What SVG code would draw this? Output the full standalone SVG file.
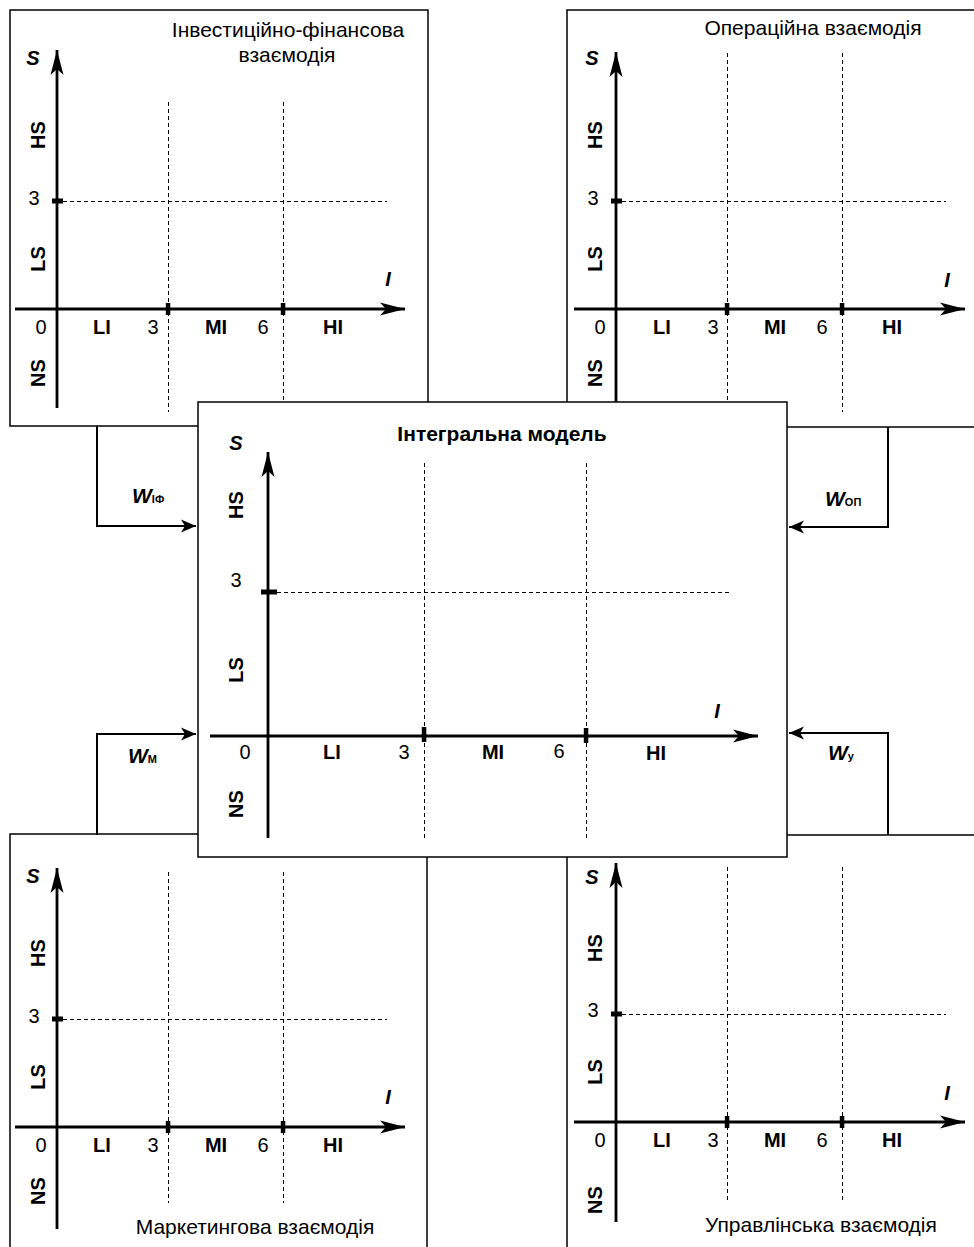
<svg xmlns="http://www.w3.org/2000/svg" width="974" height="1247" viewBox="0 0 974 1247">
<style>
text{font-family:"Liberation Sans",Arial,sans-serif;fill:#000}
.t{font-size:20px;text-anchor:middle}
.b{font-weight:bold}
.bi{font-weight:bold;font-style:italic}
.ttl{font-size:21px;text-anchor:middle}
.frame{fill:#fff;stroke:#000;stroke-width:1.5}
.ax{stroke:#000;stroke-width:2.8;fill:none}
.dash{stroke:#000;stroke-width:1;stroke-dasharray:4,3;fill:none;shape-rendering:crispEdges}
.con{stroke:#000;stroke-width:2;fill:none}
.w{font-size:21px;font-weight:bold;font-style:italic}
.sub{font-size:11px;font-style:normal;font-weight:bold}
</style>
<defs>
<marker id="ah" markerUnits="userSpaceOnUse" markerWidth="30" markerHeight="16" viewBox="-26 -8 28 16" refX="0" refY="0" orient="auto">
<path d="M0,0 L-25,-6.5 L-19,0 L-25,6.5 Z" fill="#000"/>
</marker>
<marker id="ch" markerUnits="userSpaceOnUse" markerWidth="20" markerHeight="16" viewBox="-16 -8 18 16" refX="0" refY="0" orient="auto">
<path d="M0,0 L-15,-6.5 L-11,0 L-15,6.5 Z" fill="#000"/>
</marker>
</defs>
<rect width="974" height="1247" fill="#fff"/>

<g id="panel-investment">
<rect class="frame" x="10" y="10" width="418" height="416"/>
<text class="ttl" x="288" y="37">Інвестиційно-фінансова</text>
<text class="ttl" x="287" y="62">взаємодія</text>
<line class="dash" x1="63" y1="201.5" x2="387" y2="201.5"/>
<line class="dash" x1="168.5" y1="102" x2="168.5" y2="412"/>
<line class="dash" x1="283.5" y1="102" x2="283.5" y2="412"/>
<line class="ax" x1="57" y1="408" x2="57" y2="50" marker-end="url(#ah)"/>
<line class="ax" x1="15" y1="309" x2="405" y2="309" marker-end="url(#ah)"/>
<rect x="52" y="198.5" width="11" height="5"/>
<rect x="165.8" y="303" width="4.5" height="12"/>
<rect x="280.8" y="303" width="4.5" height="12"/>
<text class="t bi" x="33" y="65">S</text>
<text class="t b" x="38" y="142" transform="rotate(-90 38 135)">HS</text>
<text class="t" x="34" y="205">3</text>
<text class="t b" x="38" y="266" transform="rotate(-90 38 259)">LS</text>
<text class="t bi" x="388" y="286">I</text>
<text class="t" x="41" y="334">0</text>
<text class="t b" x="102" y="334">LI</text>
<text class="t" x="153" y="334">3</text>
<text class="t b" x="216" y="334">MI</text>
<text class="t" x="263" y="334">6</text>
<text class="t b" x="333" y="334">HI</text>
<text class="t b" x="38" y="380" transform="rotate(-90 38 373)">NS</text>
</g>

<g id="panel-operational">
<rect class="frame" x="567" y="10" width="430" height="417"/>
<text class="ttl" x="813" y="35">Операційна взаємодія</text>
<line class="dash" x1="622" y1="201.5" x2="946" y2="201.5"/>
<line class="dash" x1="727.5" y1="53" x2="727.5" y2="412"/>
<line class="dash" x1="842.5" y1="53" x2="842.5" y2="412"/>
<line class="ax" x1="616" y1="408" x2="616" y2="52" marker-end="url(#ah)"/>
<line class="ax" x1="574" y1="309" x2="965" y2="309" marker-end="url(#ah)"/>
<rect x="611" y="198.5" width="11" height="5"/>
<rect x="724.8" y="303" width="4.5" height="12"/>
<rect x="839.8" y="303" width="4.5" height="12"/>
<text class="t bi" x="592" y="65">S</text>
<text class="t b" x="595" y="142" transform="rotate(-90 595 135)">HS</text>
<text class="t" x="593" y="205">3</text>
<text class="t b" x="595" y="266" transform="rotate(-90 595 259)">LS</text>
<text class="t bi" x="947" y="287">I</text>
<text class="t" x="600" y="334">0</text>
<text class="t b" x="662" y="334">LI</text>
<text class="t" x="713" y="334">3</text>
<text class="t b" x="775" y="334">MI</text>
<text class="t" x="822" y="334">6</text>
<text class="t b" x="892" y="334">HI</text>
<text class="t b" x="595" y="380" transform="rotate(-90 595 373)">NS</text>
</g>

<g id="panel-marketing">
<rect class="frame" x="10" y="834" width="417" height="430"/>
<text class="ttl" x="255" y="1234">Маркетингова взаємодія</text>
<line class="dash" x1="63" y1="1019.5" x2="387" y2="1019.5"/>
<line class="dash" x1="168.5" y1="872" x2="168.5" y2="1203"/>
<line class="dash" x1="283.5" y1="872" x2="283.5" y2="1203"/>
<line class="ax" x1="57" y1="1229" x2="57" y2="868" marker-end="url(#ah)"/>
<line class="ax" x1="15" y1="1127" x2="405" y2="1127" marker-end="url(#ah)"/>
<rect x="52" y="1016.5" width="11" height="5"/>
<rect x="165.8" y="1121" width="4.5" height="12"/>
<rect x="280.8" y="1121" width="4.5" height="12"/>
<text class="t bi" x="33" y="883">S</text>
<text class="t b" x="38" y="960" transform="rotate(-90 38 953)">HS</text>
<text class="t" x="34" y="1023">3</text>
<text class="t b" x="38" y="1084" transform="rotate(-90 38 1077)">LS</text>
<text class="t bi" x="388" y="1104">I</text>
<text class="t" x="41" y="1152">0</text>
<text class="t b" x="102" y="1152">LI</text>
<text class="t" x="153" y="1152">3</text>
<text class="t b" x="216" y="1152">MI</text>
<text class="t" x="263" y="1152">6</text>
<text class="t b" x="333" y="1152">HI</text>
<text class="t b" x="38" y="1198" transform="rotate(-90 38 1191)">NS</text>
</g>

<g id="panel-management">
<rect class="frame" x="567" y="835" width="430" height="430"/>
<text class="ttl" x="821" y="1232">Управлінська взаємодія</text>
<line class="dash" x1="622" y1="1014.5" x2="946" y2="1014.5"/>
<line class="dash" x1="727.5" y1="867" x2="727.5" y2="1202"/>
<line class="dash" x1="842.5" y1="867" x2="842.5" y2="1202"/>
<line class="ax" x1="616" y1="1222" x2="616" y2="863" marker-end="url(#ah)"/>
<line class="ax" x1="574" y1="1122" x2="965" y2="1122" marker-end="url(#ah)"/>
<rect x="611" y="1011.5" width="11" height="5"/>
<rect x="724.8" y="1116" width="4.5" height="12"/>
<rect x="839.8" y="1116" width="4.5" height="12"/>
<text class="t bi" x="592" y="884">S</text>
<text class="t b" x="595" y="955" transform="rotate(-90 595 948)">HS</text>
<text class="t" x="593" y="1017">3</text>
<text class="t b" x="595" y="1079" transform="rotate(-90 595 1072)">LS</text>
<text class="t bi" x="947" y="1100">I</text>
<text class="t" x="600" y="1147">0</text>
<text class="t b" x="662" y="1147">LI</text>
<text class="t" x="713" y="1147">3</text>
<text class="t b" x="775" y="1147">MI</text>
<text class="t" x="822" y="1147">6</text>
<text class="t b" x="892" y="1147">HI</text>
<text class="t b" x="595" y="1207" transform="rotate(-90 595 1200)">NS</text>
</g>

<g id="connectors">
<path class="con" d="M97,426 V526 H196" marker-end="url(#ch)"/>
<path class="con" d="M888,427 V527 H789" marker-end="url(#ch)"/>
<path class="con" d="M97,835 V734 H196" marker-end="url(#ch)"/>
<path class="con" d="M888,835 V733 H789" marker-end="url(#ch)"/>
<text class="w" x="132" y="503">W<tspan class="sub">ІФ</tspan></text>
<text class="w" x="825" y="506">W<tspan class="sub">ОП</tspan></text>
<text class="w" x="128" y="763">W<tspan class="sub" font-size="12">М</tspan></text>
<text class="w" x="828" y="760">W<tspan class="sub" font-size="13">у</tspan></text>
</g>

<g id="panel-integral">
<rect class="frame" x="198" y="402" width="589" height="455"/>
<text class="ttl b" x="502" y="441">Інтегральна модель</text>
<line class="dash" x1="277" y1="592.5" x2="730" y2="592.5"/>
<line class="dash" x1="424.5" y1="463" x2="424.5" y2="838"/>
<line class="dash" x1="586.5" y1="463" x2="586.5" y2="838"/>
<line class="ax" x1="268" y1="838" x2="268" y2="452" marker-end="url(#ah)"/>
<line class="ax" x1="210" y1="736" x2="758" y2="736" marker-end="url(#ah)"/>
<rect x="261" y="589.5" width="16" height="5"/>
<rect x="421.8" y="727" width="4.5" height="15"/>
<rect x="583.8" y="728" width="4.5" height="15"/>
<text class="t bi" x="236" y="450">S</text>
<text class="t b" x="236" y="512" transform="rotate(-90 236 505)">HS</text>
<text class="t" x="236" y="587">3</text>
<text class="t b" x="236" y="677" transform="rotate(-90 236 670)">LS</text>
<text class="t bi" x="717" y="718">I</text>
<text class="t" x="245" y="759">0</text>
<text class="t b" x="332" y="759">LI</text>
<text class="t" x="404" y="759">3</text>
<text class="t b" x="493" y="759">MI</text>
<text class="t" x="559" y="758">6</text>
<text class="t b" x="656" y="760">HI</text>
<text class="t b" x="236" y="811" transform="rotate(-90 236 804)">NS</text>
</g>
</svg>
